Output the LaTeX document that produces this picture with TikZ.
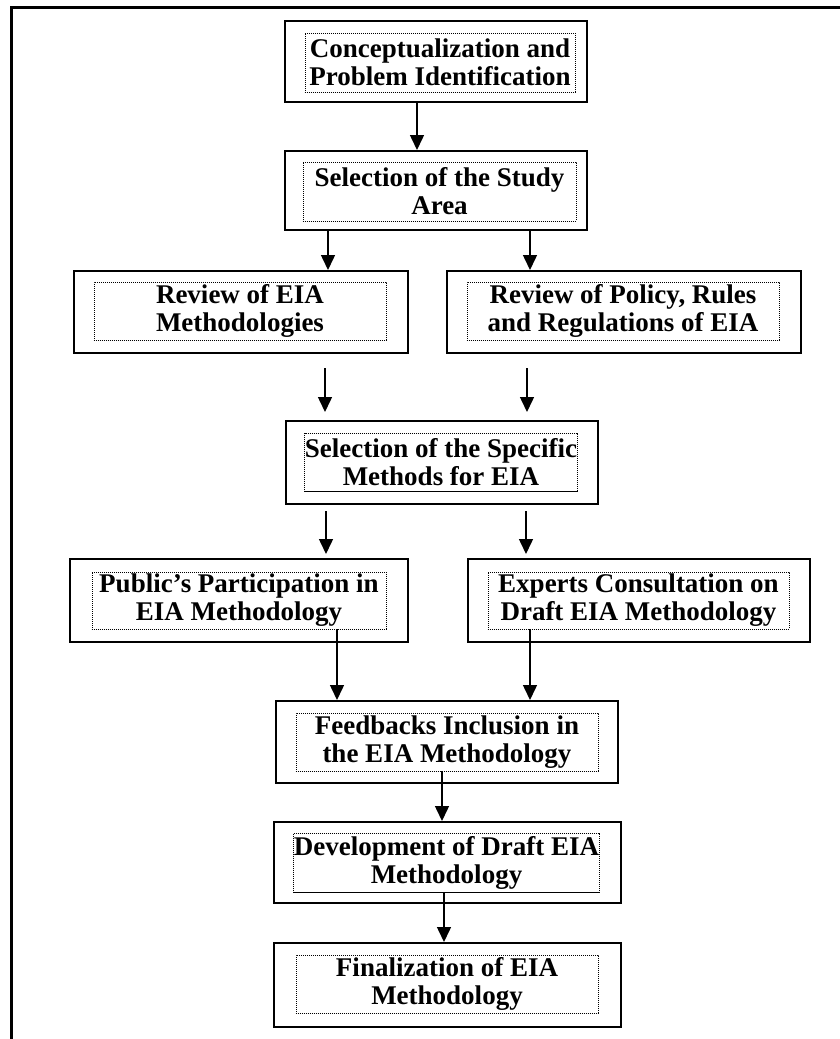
\documentclass[tikz,border=0pt]{standalone}
\usepackage{fontspec}
\setmainfont{Liberation Serif}
\usetikzlibrary{arrows.meta}
\begin{document}
\begin{tikzpicture}[x=1pt,y=-1pt,
  box/.style={draw, line width=2pt, inner sep=0pt},
  txt/.style={draw, line width=0.9pt, dash pattern=on 0.9pt off 1.1pt,
    inner sep=0pt, align=center,
    font=\fontsize{27}{28}\selectfont\bfseries},
  dotbottom/.style={line width=1.8pt, dash pattern=on 1pt off 1pt},
  arr/.style={line width=1.5pt, -{Triangle[length=15pt,width=14pt]}},
  frame/.style={line width=3pt}]
\useasboundingbox (0,0) rectangle (839,1039);

% page frame (top and left rules)
\draw[frame] (11,1041) -- (11,7) -- (841,7);

% stages
\node[box, minimum width=302pt, minimum height=81pt] (b1) at (436,61.5) {};
\node[txt, minimum width=270pt, minimum height=59pt] (t1) at (440,62.5)
  {Conceptualization and\\Problem Identification};

\node[box, minimum width=302pt, minimum height=79pt] (b2) at (436,190.5) {};
\node[txt, minimum width=273pt, minimum height=59pt] (t2) at (439.5,191.5)
  {Selection of the Study\\Area};

\node[box, minimum width=334pt, minimum height=82pt] (b3l) at (241,312) {};
\node[txt, minimum width=292pt, minimum height=58pt] (t3l) at (240,311)
  {Review of EIA\\Methodologies};

\node[box, minimum width=354pt, minimum height=82pt] (b3r) at (624,312) {};
\node[txt, minimum width=312pt, minimum height=58pt] (t3r) at (623,311)
  {Review of Policy, Rules\\and Regulations of EIA};

\node[box, minimum width=312pt, minimum height=83pt] (b4) at (442,462.5) {};
\node[txt, minimum width=270pt, minimum height=58pt] (t4) at (441,462)
  {Selection of the Specific\\Methods for EIA};

\node[box, minimum width=338pt, minimum height=83pt] (b5l) at (239,600.5) {};
\node[txt, minimum width=294pt, minimum height=57pt] (t5l) at (239,600.5)
  {Public’s Participation in\\EIA Methodology};

\node[box, minimum width=342pt, minimum height=83pt] (b5r) at (639,600.5) {};
\node[txt, minimum width=301pt, minimum height=57pt] (t5r) at (638.5,600.5)
  {Experts Consultation on\\Draft EIA Methodology};

\node[box, minimum width=342pt, minimum height=82pt] (b6) at (447,742) {};
\node[txt, minimum width=302pt, minimum height=58pt] (t6) at (447,742)
  {Feedbacks Inclusion in\\the EIA Methodology};

\node[box, minimum width=347pt, minimum height=81pt] (b7) at (447.5,862.5) {};
\node[txt, minimum width=301pt, minimum height=59pt] (t7) at (446.5,862.5)
  {Development of Draft EIA\\Methodology};

\node[box, minimum width=347pt, minimum height=84pt] (b8) at (447.5,985) {};
\node[txt, minimum width=302pt, minimum height=58pt] (t8) at (447,984)
  {Finalization of EIA\\Methodology};

% heavier dotted lower edge of the text frames
\foreach \t in {t1,t2,t3l,t3r,t4,t5l,t5r,t6,t7,t8}
  \draw[dotbottom] (\t.south west) -- (\t.south east);

% connectors
\draw[arr] (b1.south -| 417,0) -- (b2.north -| 417,0);
\draw[arr] (b2.south -| 328,0) -- (b3l.north -| 328,0);
\draw[arr] (b2.south -| 530,0) -- (b3r.north -| 530,0);
\draw[arr, shorten <=14pt, shorten >=8pt] (b3l.south -| 325,0) -- (b4.north -| 325,0);
\draw[arr, shorten <=14pt, shorten >=8pt] (b3r.south -| 527,0) -- (b4.north -| 527,0);
\draw[arr, shorten <=6pt, shorten >=4pt] (b4.south -| 326,0) -- (b5l.north -| 326,0);
\draw[arr, shorten <=6pt, shorten >=4pt] (b4.south -| 526,0) -- (b5r.north -| 526,0);
\draw[arr] (t5l.south -| 337,0) -- (b6.north -| 337,0);
\draw[arr] (t5r.south -| 530,0) -- (b6.north -| 530,0);
\draw[arr] (t6.south -| 442,0) -- (b7.north -| 442,0);
\draw[arr] (t7.south -| 444,0) -- (b8.north -| 444,0);
\end{tikzpicture}
\end{document}
